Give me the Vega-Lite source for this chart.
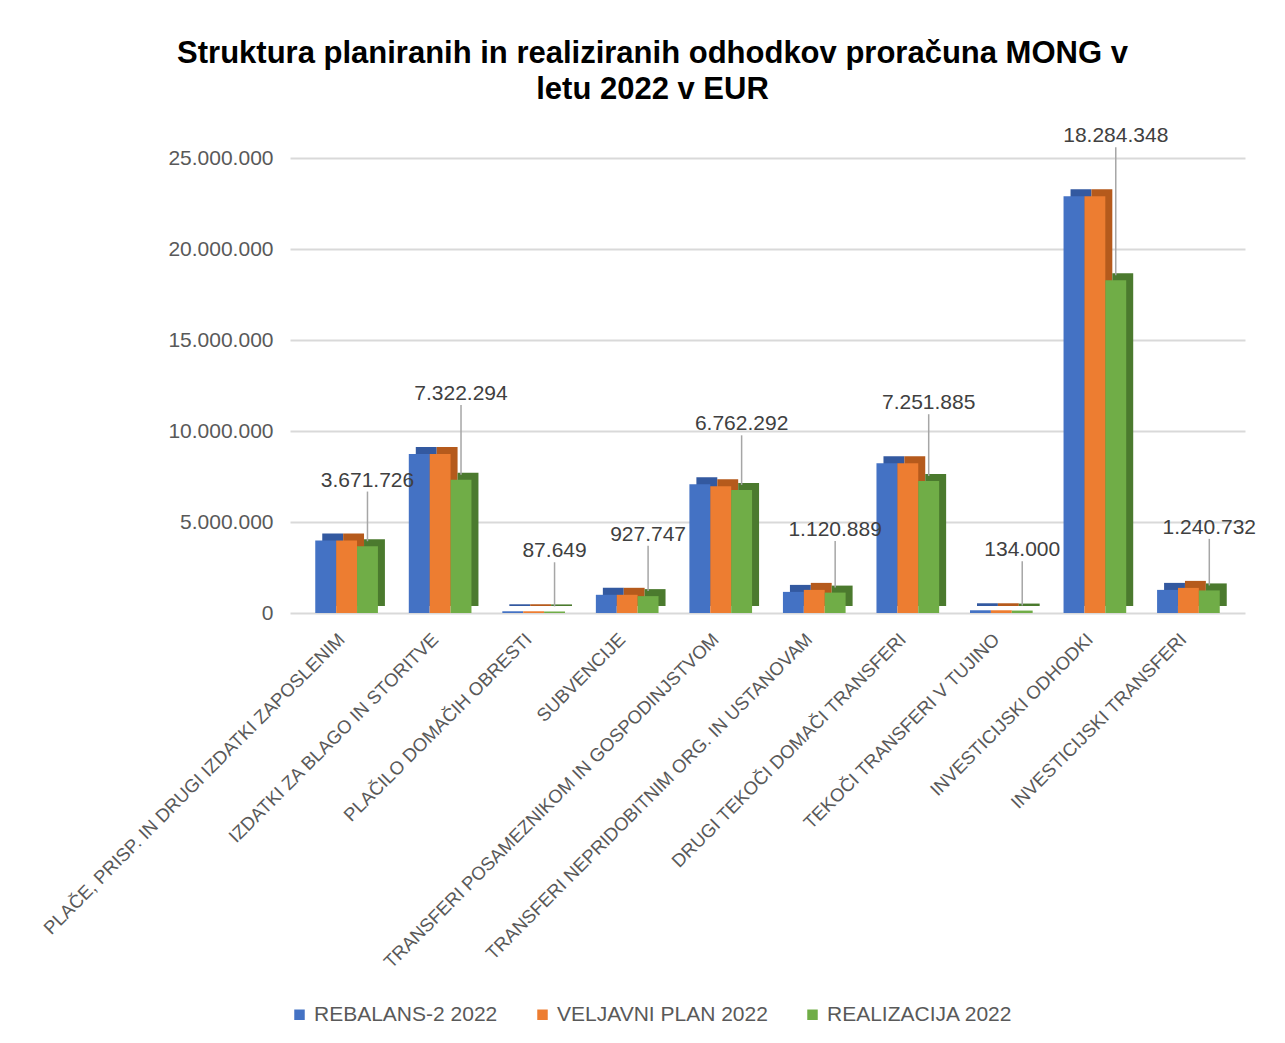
{
  "$schema": "https://vega.github.io/schema/vega-lite/v6.json",
  "width": 955,
  "height": 455,
  "autosize": "none",
  "padding": {"left": 290, "top": 158, "right": 40, "bottom": 430},
  "background": "white",
  "title": {
    "text": ["Struktura planiranih in realiziranih odhodkov proračuna MONG v", "letu 2022 v EUR"],
    "fontSize": 31,
    "font": "Liberation Sans",
    "fontWeight": "bold",
    "color": "#000000",
    "anchor": "middle",
    "dx": -115,
    "offset": 19,
    "lineHeight": 36
  },
  "config": {
    "locale": {"number": {"decimal": ",", "thousands": ".", "grouping": [3], "currency": ["", " €"]}},
    "view": {"stroke": null},
    "font": "Liberation Sans"
  },
  "data": {
    "values": [
      {"kategorija": "PLAČE, PRISP. IN DRUGI IZDATKI ZAPOSLENIM", "serija": "REBALANS-2 2022", "vrednost": 3980000},
      {"kategorija": "PLAČE, PRISP. IN DRUGI IZDATKI ZAPOSLENIM", "serija": "VELJAVNI PLAN 2022", "vrednost": 3980000},
      {"kategorija": "PLAČE, PRISP. IN DRUGI IZDATKI ZAPOSLENIM", "serija": "REALIZACIJA 2022", "vrednost": 3671726},
      {"kategorija": "IZDATKI ZA BLAGO IN STORITVE", "serija": "REBALANS-2 2022", "vrednost": 8730000},
      {"kategorija": "IZDATKI ZA BLAGO IN STORITVE", "serija": "VELJAVNI PLAN 2022", "vrednost": 8730000},
      {"kategorija": "IZDATKI ZA BLAGO IN STORITVE", "serija": "REALIZACIJA 2022", "vrednost": 7322294},
      {"kategorija": "PLAČILO DOMAČIH OBRESTI", "serija": "REBALANS-2 2022", "vrednost": 95000},
      {"kategorija": "PLAČILO DOMAČIH OBRESTI", "serija": "VELJAVNI PLAN 2022", "vrednost": 95000},
      {"kategorija": "PLAČILO DOMAČIH OBRESTI", "serija": "REALIZACIJA 2022", "vrednost": 87649},
      {"kategorija": "SUBVENCIJE", "serija": "REBALANS-2 2022", "vrednost": 1000000},
      {"kategorija": "SUBVENCIJE", "serija": "VELJAVNI PLAN 2022", "vrednost": 1000000},
      {"kategorija": "SUBVENCIJE", "serija": "REALIZACIJA 2022", "vrednost": 927747},
      {"kategorija": "TRANSFERI POSAMEZNIKOM IN GOSPODINJSTVOM", "serija": "REBALANS-2 2022", "vrednost": 7070000},
      {"kategorija": "TRANSFERI POSAMEZNIKOM IN GOSPODINJSTVOM", "serija": "VELJAVNI PLAN 2022", "vrednost": 6960000},
      {"kategorija": "TRANSFERI POSAMEZNIKOM IN GOSPODINJSTVOM", "serija": "REALIZACIJA 2022", "vrednost": 6762292},
      {"kategorija": "TRANSFERI NEPRIDOBITNIM ORG. IN USTANOVAM", "serija": "REBALANS-2 2022", "vrednost": 1160000},
      {"kategorija": "TRANSFERI NEPRIDOBITNIM ORG. IN USTANOVAM", "serija": "VELJAVNI PLAN 2022", "vrednost": 1270000},
      {"kategorija": "TRANSFERI NEPRIDOBITNIM ORG. IN USTANOVAM", "serija": "REALIZACIJA 2022", "vrednost": 1120889},
      {"kategorija": "DRUGI TEKOČI DOMAČI TRANSFERI", "serija": "REBALANS-2 2022", "vrednost": 8230000},
      {"kategorija": "DRUGI TEKOČI DOMAČI TRANSFERI", "serija": "VELJAVNI PLAN 2022", "vrednost": 8230000},
      {"kategorija": "DRUGI TEKOČI DOMAČI TRANSFERI", "serija": "REALIZACIJA 2022", "vrednost": 7251885},
      {"kategorija": "TEKOČI TRANSFERI V TUJINO", "serija": "REBALANS-2 2022", "vrednost": 150000},
      {"kategorija": "TEKOČI TRANSFERI V TUJINO", "serija": "VELJAVNI PLAN 2022", "vrednost": 150000},
      {"kategorija": "TEKOČI TRANSFERI V TUJINO", "serija": "REALIZACIJA 2022", "vrednost": 134000},
      {"kategorija": "INVESTICIJSKI ODHODKI", "serija": "REBALANS-2 2022", "vrednost": 22900000},
      {"kategorija": "INVESTICIJSKI ODHODKI", "serija": "VELJAVNI PLAN 2022", "vrednost": 22900000},
      {"kategorija": "INVESTICIJSKI ODHODKI", "serija": "REALIZACIJA 2022", "vrednost": 18284348},
      {"kategorija": "INVESTICIJSKI TRANSFERI", "serija": "REBALANS-2 2022", "vrednost": 1270000},
      {"kategorija": "INVESTICIJSKI TRANSFERI", "serija": "VELJAVNI PLAN 2022", "vrednost": 1380000},
      {"kategorija": "INVESTICIJSKI TRANSFERI", "serija": "REALIZACIJA 2022", "vrednost": 1240732}
    ]
  },
  "encoding": {
    "x": {
      "field": "kategorija",
      "type": "nominal",
      "sort": null,
      "scale": {"paddingInner": 0.33, "paddingOuter": 0.27},
      "axis": {
        "title": null,
        "labelAngle": -45,
        "labelAlign": "right",
        "labelBaseline": "middle",
        "labelFontSize": 18.5,
        "labelColor": "#595959",
        "labelLimit": 1000,
        "labelPadding": 23,
        "labelOffset": -5,
        "domain": false,
        "ticks": false
      }
    }
  },
  "layer": [
    {
      "mark": {"type": "bar", "yOffset": -7, "y2Offset": -7},
      "encoding": {
        "xOffset": {
          "field": "serija",
          "type": "nominal",
          "sort": null,
          "scale": {"domain": ["REBALANS-2 2022", "VELJAVNI PLAN 2022", "REALIZACIJA 2022"], "range": [7, 69.67], "paddingInner": 0, "paddingOuter": 0}
        },
        "y": {"field": "vrednost", "type": "quantitative", "scale": {"domain": [0, 25000000], "nice": false}},
        "color": {
          "field": "serija",
          "type": "nominal",
          "sort": null,
          "scale": {"domain": ["REBALANS-2 2022", "VELJAVNI PLAN 2022", "REALIZACIJA 2022"], "range": ["#3359a0", "#b55a1c", "#4b7a2e"]},
          "legend": null
        }
      }
    },
    {
      "layer": [
        {
          "mark": {"type": "bar"},
          "encoding": {
            "y": {
              "field": "vrednost",
              "type": "quantitative",
              "scale": {"domain": [0, 25000000], "nice": false},
              "axis": {
                "title": null,
                "values": [0, 5000000, 10000000, 15000000, 20000000, 25000000],
                "format": ",d",
                "labelFontSize": 21,
                "labelColor": "#595959",
                "labelPadding": 17,
                "domain": false,
                "ticks": false,
                "gridColor": "#d9d9d9",
                "gridWidth": 2
              }
            },
            "color": {
              "field": "serija",
              "type": "nominal",
              "sort": null,
              "scale": {"domain": ["REBALANS-2 2022", "VELJAVNI PLAN 2022", "REALIZACIJA 2022"], "range": ["#4472c4", "#ed7d31", "#70ad47"]},
              "legend": {
                "title": null,
                "orient": "none",
                "legendX": -1,
                "legendY": 846,
                "direction": "horizontal",
                "symbolType": "square",
                "symbolSize": 110,
                "symbolStrokeWidth": 0,
                "labelFontSize": 21,
                "labelColor": "#595959",
                "labelLimit": 400,
                "labelOffset": 4,
                "columnPadding": 34
              }
            }
          }
        },
        {
          "transform": [
            {"joinaggregate": [{"op": "max", "field": "vrednost", "as": "maxv"}], "groupby": ["kategorija"]},
            {"filter": "datum.serija === 'REALIZACIJA 2022'"}
          ],
          "mark": {"type": "rule", "color": "#a6a6a6", "strokeWidth": 1.5, "yOffset": -5, "y2Offset": -49},
          "encoding": {
            "y": {"field": "vrednost", "type": "quantitative"},
            "y2": {"field": "maxv"}
          }
        },
        {
          "transform": [
            {"joinaggregate": [{"op": "max", "field": "vrednost", "as": "maxv"}], "groupby": ["kategorija"]},
            {"filter": "datum.serija === 'REALIZACIJA 2022'"}
          ],
          "mark": {"type": "text", "fontSize": 21, "color": "#404040", "baseline": "bottom", "dy": -50},
          "encoding": {
            "y": {"field": "maxv", "type": "quantitative"},
            "text": {"field": "vrednost", "type": "quantitative", "format": ",d"}
          }
        }
      ],
      "encoding": {
        "xOffset": {
          "field": "serija",
          "type": "nominal",
          "sort": null,
          "scale": {"domain": ["REBALANS-2 2022", "VELJAVNI PLAN 2022", "REALIZACIJA 2022"], "paddingInner": 0, "paddingOuter": 0}
        }
      }
    }
  ],
  "resolve": {"scale": {"color": "independent", "xOffset": "independent"}}
}
